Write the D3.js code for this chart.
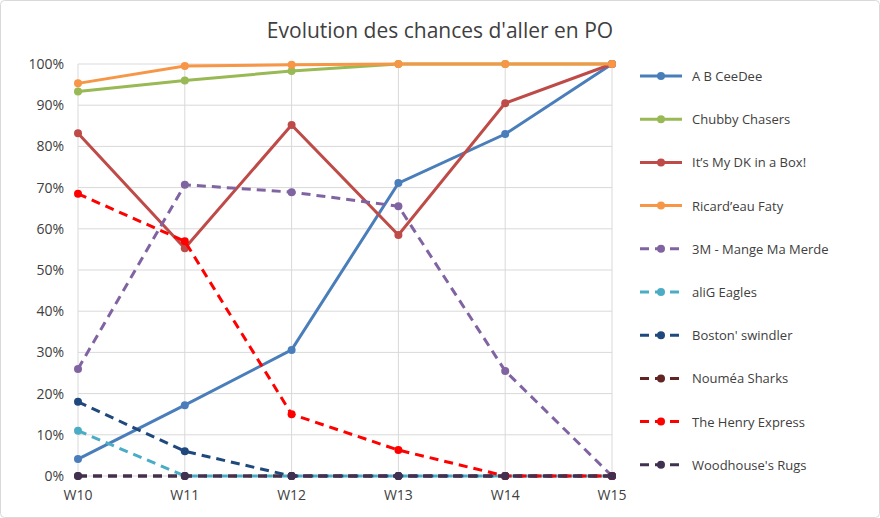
<!DOCTYPE html>
<html><head><meta charset="utf-8">
<script src="https://cdn.jsdelivr.net/npm/d3@7"></script>
<style>body{margin:0;background:#fff;font-family:"Open Sans",sans-serif;}</style>
</head><body>
<svg id="c" width="880" height="518"></svg>
<script>
const weeks = ["W10","W11","W12","W13","W14","W15"];
const yTicks = [0,10,20,30,40,50,60,70,80,90,100];
const names = ["A B CeeDee","Chubby Chasers","It’s My DK in a Box!","Ricard’eau Faty","3M - Mange Ma Merde","aliG Eagles","Boston' swindler","Nouméa Sharks","The Henry Express","Woodhouse's Rugs"];
const colors = ["#4a7ebb","#98b954","#be4b48","#f79646","#8064a2","#4bacc6","#1f497d","#632523","#ff0000","#403152"];
const dashed = [false,false,false,false,true,true,true,true,true,true];
const abCeeDee = [4.1,17.2,30.6,71.1,83,100];
const chubby = [93.3,96,98.3,100,100,100];
const myDK = [83.2,55.3,85.2,58.5,90.5,100];
const ricard = [95.3,99.5,99.8,100,100,100];
const mange = [26,70.7,68.9,65.5,25.5,0];
const aliG = [11,0,0,0,0,0];
const boston = [18,6,0,0,0,0];
const noumea = [0,0,0,0,0,0];
const henry = [68.5,57,15,6.3,0,0];
const woodhouse = [0,0,0,0,0,0];
const series = [abCeeDee,chubby,myDK,ricard,mange,aliG,boston,noumea,henry,woodhouse];

const svg = d3.select("#c");
svg.append("rect").attr("x",0.5).attr("y",0.5).attr("width",879).attr("height",517)
  .attr("rx",4).attr("fill","#fff").attr("stroke","#d9d9d9");
svg.append("text").attr("x",440).attr("y",38).attr("text-anchor","middle")
  .attr("font-size",21).attr("fill","#404040").text("Evolution des chances d'aller en PO");

const x = d3.scalePoint().domain(weeks).range([78,612]);
const y = d3.scaleLinear().domain([0,100]).range([476,64]);

const g = svg.append("g");
g.selectAll(".hg").data(yTicks).join("line").attr("x1",78).attr("x2",612)
  .attr("y1",d=>y(d)).attr("y2",d=>y(d)).attr("stroke","#d9d9d9");
g.selectAll(".vg").data(weeks).join("line").attr("y1",64).attr("y2",476)
  .attr("x1",d=>x(d)).attr("x2",d=>x(d)).attr("stroke","#d9d9d9");

g.selectAll(".yl").data(yTicks).join("text").attr("x",64).attr("y",d=>y(d)+5)
  .attr("text-anchor","end").attr("font-size",14).attr("fill","#404040").text(d=>d+"%");
g.selectAll(".xl").data(weeks).join("text").attr("x",d=>x(d)).attr("y",500)
  .attr("text-anchor","middle").attr("font-size",14).attr("fill","#404040").text(d=>d);

const line = d3.line().x((d,i)=>x(weeks[i])).y(d=>y(d));
series.forEach((s,k)=>{
  const sg = svg.append("g");
  sg.append("path").attr("d",line(s)).attr("fill","none").attr("stroke",colors[k])
    .attr("stroke-width",3).attr("stroke-dasharray",dashed[k]?"9,6":null);
  sg.selectAll("circle").data(s).join("circle").attr("cx",(d,i)=>x(weeks[i])).attr("cy",d=>y(d))
    .attr("r",4).attr("fill",colors[k]);
});

const lg = svg.append("g");
names.forEach((n,k)=>{
  const yy = 76 + k*43.2;
  lg.append("line").attr("x1",640).attr("x2",682).attr("y1",yy).attr("y2",yy)
    .attr("stroke",colors[k]).attr("stroke-width",3).attr("stroke-dasharray",dashed[k]?"9,6":null);
  lg.append("circle").attr("cx",661).attr("cy",yy).attr("r",4).attr("fill",colors[k]);
  lg.append("text").attr("x",692).attr("y",yy+5).attr("font-size",13).attr("fill","#404040").text(n);
});
</script>
</body></html>
